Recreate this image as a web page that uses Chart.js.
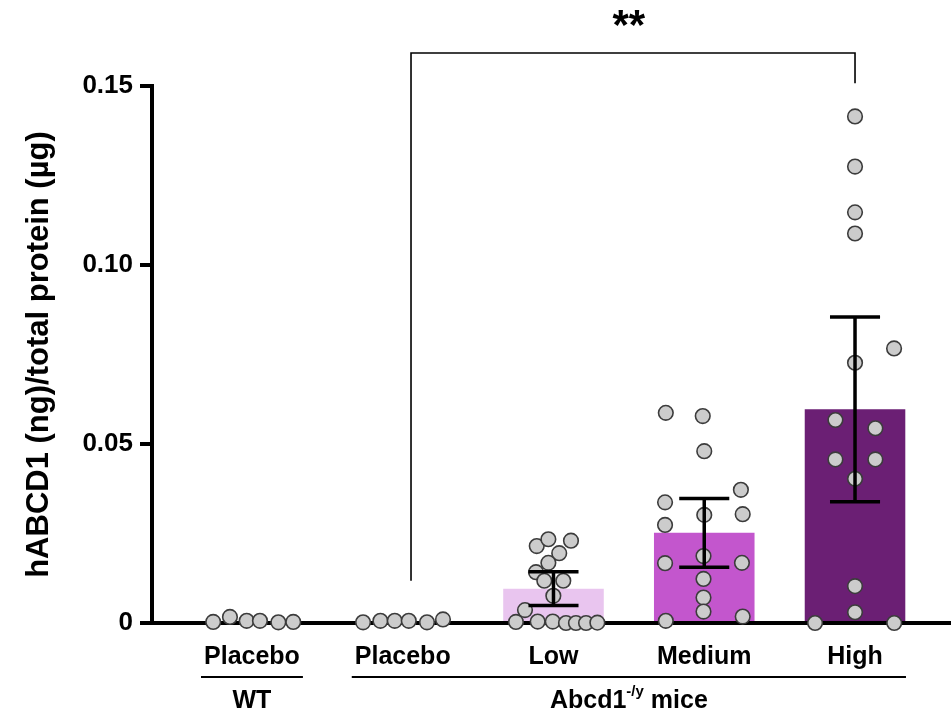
<!DOCTYPE html>
<html>
<head>
<meta charset="utf-8">
<script src="https://cdn.jsdelivr.net/npm/chart.js@4.4.1/dist/chart.umd.min.js"></script>
<style>
  body { margin: 0; background: #fff; }
  #wrap { width: 951px; height: 713px; }
</style>
</head>
<body>
<div id="wrap"><canvas id="abcd1Levels"></canvas></div>
<script>
const groups = ['Placebo', 'Placebo', 'Low', 'Medium', 'High'];
const means = [0.0006, 0.0006, 0.0096, 0.0252, 0.0597];
const sems = [null, null, 0.0047, 0.0096, 0.0258];
const barColors = ['#ffffff', '#ffffff', '#e9c5ef', '#c356cd', '#6b1f74'];
const yTicks = [0, 0.05, 0.10, 0.15];

// individual animals: horizontal jitter (category units) and value
const wtPlaceboX = [-0.257, -0.146, -0.035, 0.053, 0.175, 0.274];
const wtPlaceboY = [0.0003, 0.0017, 0.0006, 0.0006, 0.0002, 0.0003];
const koPlaceboX = [-0.263, -0.148, -0.053, 0.040, 0.161, 0.267];
const koPlaceboY = [0.0002, 0.0006, 0.0006, 0.0006, 0.0002, 0.0010];
const lowX = [-0.111, -0.034, 0.116, 0.038, -0.034, -0.116, -0.061, 0.065, -0.001, -0.189, -0.249, -0.105, -0.005, 0.083, 0.149, 0.216, 0.291];
const lowY = [0.0215, 0.0234, 0.0230, 0.0195, 0.0168, 0.0142, 0.0118, 0.0118, 0.0076, 0.0036, 0.0003, 0.0004, 0.0004, 0, 0, 0, 0.0001];
const mediumX = [-0.255, -0.01, 0, 0.243, -0.26, 0, 0.255, -0.26, -0.26, -0.005, 0.25, -0.005, -0.005, -0.005, -0.255, 0.255];
const mediumY = [0.0587, 0.0578, 0.0480, 0.0372, 0.0337, 0.0302, 0.0304, 0.0274, 0.0167, 0.0187, 0.0168, 0.0123, 0.0071, 0.0032, 0.0006, 0.0018];
const highX = [0, 0, 0, 0, 0.259, 0, -0.13, 0.135, -0.13, 0.135, 0, 0, 0, -0.265, 0.26];
const highY = [0.1415, 0.1275, 0.1147, 0.1088, 0.0767, 0.0727, 0.0567, 0.0544, 0.0457, 0.0457, 0.0403, 0.0103, 0.0030, 0, 0];

const genotypes = ['WT', 'Abcd1'];
const genotypeSup = ['', '-/y'];
const genotypeTail = ['', ' mice'];
const genotypeFrom = [0, 1];
const genotypeTo = [0, 4];

const bracketFrom = 1.055;
const bracketTo = 4;
const bracketTop = 0.1592;
const bracketLegEnds = [0.0118, 0.1508];
const bracketLabel = '**';

const FONT = '"Liberation Sans", Arial, Helvetica, sans-serif';

const dotSets = [
	[wtPlaceboX, wtPlaceboY],
	[koPlaceboX, koPlaceboY],
	[lowX, lowY],
	[mediumX, mediumY],
	[highX, highY],
];
const dots = [];
dotSets.forEach(([xs, ys], g) => {
	xs.forEach((dx, i) => dots.push({ x: g + dx, y: ys[i] }));
});

// error bars, significance bracket and group labels
const annotations = {
	id: 'annotations',
	afterDatasetsDraw(chart) {
		const { ctx, scales: { x, y } } = chart;
		ctx.save();
		ctx.strokeStyle = '#000';
		ctx.fillStyle = '#000';

		// mean +/- SEM
		ctx.lineWidth = 3.5;
		means.forEach((m, i) => {
			if (sems[i] == null) return;
			const cx = x.getPixelForValue(i);
			const left = x.getPixelForValue(i - 0.166);
			const right = x.getPixelForValue(i + 0.166);
			const top = y.getPixelForValue(m + sems[i]);
			const bot = y.getPixelForValue(m - sems[i]);
			ctx.beginPath();
			ctx.moveTo(cx, top); ctx.lineTo(cx, bot);
			ctx.moveTo(left, top); ctx.lineTo(right, top);
			ctx.moveTo(left, bot); ctx.lineTo(right, bot);
			ctx.stroke();
		});

		// bracket
		const bx1 = x.getPixelForValue(bracketFrom);
		const bx2 = x.getPixelForValue(bracketTo);
		const by = y.getPixelForValue(bracketTop);
		ctx.lineWidth = 1.6;
		ctx.beginPath();
		ctx.moveTo(bx1, y.getPixelForValue(bracketLegEnds[0]));
		ctx.lineTo(bx1, by);
		ctx.lineTo(bx2, by);
		ctx.lineTo(bx2, y.getPixelForValue(bracketLegEnds[1]));
		ctx.stroke();
		ctx.font = 'bold 42px ' + FONT;
		ctx.textAlign = 'center';
		ctx.textBaseline = 'middle';
		ctx.fillText(bracketLabel, x.getPixelForValue(2.5), by - 26);

		// genotype lines and labels
		const lineY = y.bottom + 54;
		genotypes.forEach((name, i) => {
			const l = x.getPixelForValue(genotypeFrom[i] - 0.338);
			const r = x.getPixelForValue(genotypeTo[i] + 0.338);
			ctx.lineWidth = 2;
			ctx.beginPath();
			ctx.moveTo(l, lineY); ctx.lineTo(r, lineY);
			ctx.stroke();

			const mainFont = 'bold 25px ' + FONT;
			const supFont = 'bold 15px ' + FONT;
			ctx.font = mainFont;
			const w1 = ctx.measureText(name).width;
			const w3 = ctx.measureText(genotypeTail[i]).width;
			ctx.font = supFont;
			const w2 = ctx.measureText(genotypeSup[i]).width;
			let tx = (l + r) / 2 - (w1 + w2 + w3) / 2;
			const ty = lineY + 24;
			ctx.textAlign = 'left';
			ctx.textBaseline = 'middle';
			ctx.font = mainFont;
			ctx.fillText(name, tx, ty);
			tx += w1;
			ctx.font = supFont;
			ctx.fillText(genotypeSup[i], tx, ty - 9);
			tx += w2;
			ctx.font = mainFont;
			ctx.fillText(genotypeTail[i], tx, ty);
		});
		ctx.restore();
	},
};

const ctx = document.getElementById('abcd1Levels').getContext('2d');

new Chart(ctx, {
	type: 'bar',
	data: {
		datasets: [
			{
				type: 'scatter',
				data: dots,
				pointRadius: 7.3,
				pointBackgroundColor: '#cccccc',
				pointBorderColor: '#3c3c3c',
				pointBorderWidth: 1.6,
				clip: false,
				order: 1,
			},
			{
				type: 'bar',
				data: means.map((m, i) => ({ x: i, y: m })),
				backgroundColor: barColors,
				barPercentage: 0.667,
				categoryPercentage: 1,
				order: 2,
			},
		],
	},
	options: {
		responsive: true,
		maintainAspectRatio: false,
		animation: false,
		layout: { autoPadding: false, padding: { top: 86, right: 1, left: 0, bottom: 0 } },
		plugins: {
			legend: { display: false },
			tooltip: { enabled: false },
		},
		scales: {
			x: {
				type: 'linear',
				offset: false,
				min: -0.663,
				max: 4.63,
				afterBuildTicks: (s) => { s.ticks = groups.map((_, i) => ({ value: i })); },
				afterFit: (s) => { s.height = 90; s.paddingLeft = 0; s.paddingRight = 0; },
				grid: { display: true, drawOnChartArea: false, drawTicks: false, offset: false },
				border: { display: true, color: '#000', width: 4 },
				ticks: {
					autoSkip: false,
					maxRotation: 0,
					padding: 19,
					color: '#000',
					font: { family: FONT, size: 25, weight: 'bold' },
					callback: (v) => groups[v] ?? '',
				},
			},
			y: {
				min: 0,
				max: 0.15,
				afterBuildTicks: (s) => { s.ticks = yTicks.map((v) => ({ value: v })); },
				afterFit: (s) => { s.width = 152; },
				grid: { display: true, drawOnChartArea: false, tickLength: 12, color: '#000', lineWidth: 4 },
				border: { display: true, color: '#000', width: 4 },
				ticks: {
					padding: 7,
					color: '#000',
					font: { family: FONT, size: 26, weight: 'bold' },
					callback: (v) => (v === 0 ? '0' : v.toFixed(2)),
				},
				title: {
					display: true,
					text: 'hABCD1 (ng)/total protein (µg)',
					color: '#000',
					font: { family: FONT, size: 31, weight: 'bold' },
					padding: { top: 21, bottom: 0 },
				},
			},
		},
	},
	plugins: [annotations],
});
</script>
</body>
</html>
